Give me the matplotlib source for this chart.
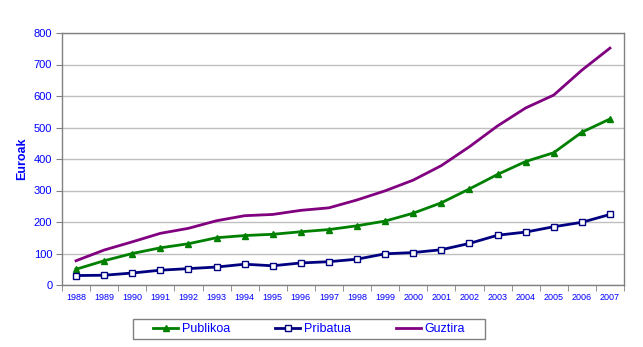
import matplotlib
matplotlib.use("Agg")
import matplotlib.pyplot as plt
from matplotlib.patches import Rectangle
import numpy as np

plt.rcParams['font.family'] = ['Liberation Sans', 'DejaVu Sans']

years = [str(y) for y in range(1988, 2008)]
publikoa = [50, 77, 100, 118, 131, 150, 157, 161, 169, 176,
            188, 203, 228, 261, 305, 351, 392, 420, 485, 527]
pribatua = [30, 31, 38, 47, 52, 57, 66, 61, 70, 74,
            82, 99, 103, 112, 132, 158, 168, 185, 199, 224]
guztira = [77, 111, 137, 164, 180, 204, 220, 224, 237, 245,
           270, 299, 333, 379, 439, 505, 562, 603, 682, 752]

blue_txt = "#0000ff"
W, H = 643, 347

fig = plt.figure(figsize=(W / 100, H / 100), dpi=100)
ax = fig.add_axes([62 / W, 1 - 285 / H, 562 / W, 252 / H])

x = np.arange(len(years))
ax.plot(x, publikoa, color="#008000", lw=2, marker="^", ms=5,
        label="Publikoa")
ax.plot(x, pribatua, color="#000080", lw=2, marker="s", ms=4.5,
        mfc="white", mew=1, label="Pribatua")
ax.plot(x, guztira, color="#800080", lw=2, label="Guztira")

ax.set_xlim(-0.5, len(years) - 0.5)
ax.set_ylim(0, 800)
ax.set_yticks(range(0, 801, 100))
ax.set_xticks(x)
ax.set_xticklabels(years)
ax.set_xticks(np.arange(-0.5, len(years), 1), minor=True)
ax.tick_params(axis="x", which="major", length=0, pad=6,
               labelsize=6.5, labelcolor=blue_txt)
ax.tick_params(axis="x", which="minor", length=4, color="#808080")
ax.tick_params(axis="y", length=4, color="#808080", labelsize=8,
               labelcolor=blue_txt, pad=3)
ax.yaxis.grid(True, color="#c0c0c0", lw=1)
ax.set_axisbelow(True)
for s in ax.spines.values():
    s.set_color("#808080")
    s.set_linewidth(1)

ax.set_ylabel("Euroak", color=blue_txt, fontsize=9, fontweight="bold",
              labelpad=4)

# legend without its own frame; box drawn separately for wider side padding
leg = fig.legend(loc="center", bbox_to_anchor=(309 / W, 1 - 329 / H),
                 ncol=3, frameon=False, fontsize=9,
                 handlelength=2.0, columnspacing=3.6, borderpad=0.25,
                 handletextpad=0.3, borderaxespad=0)
for t in leg.get_texts():
    t.set_color(blue_txt)
fig.patches.append(Rectangle((133 / W, 1 - 339 / H), 352 / W, 20 / H,
                             transform=fig.transFigure, fill=False,
                             edgecolor="#808080", lw=1))

fig.savefig("out.png", dpi=100)
